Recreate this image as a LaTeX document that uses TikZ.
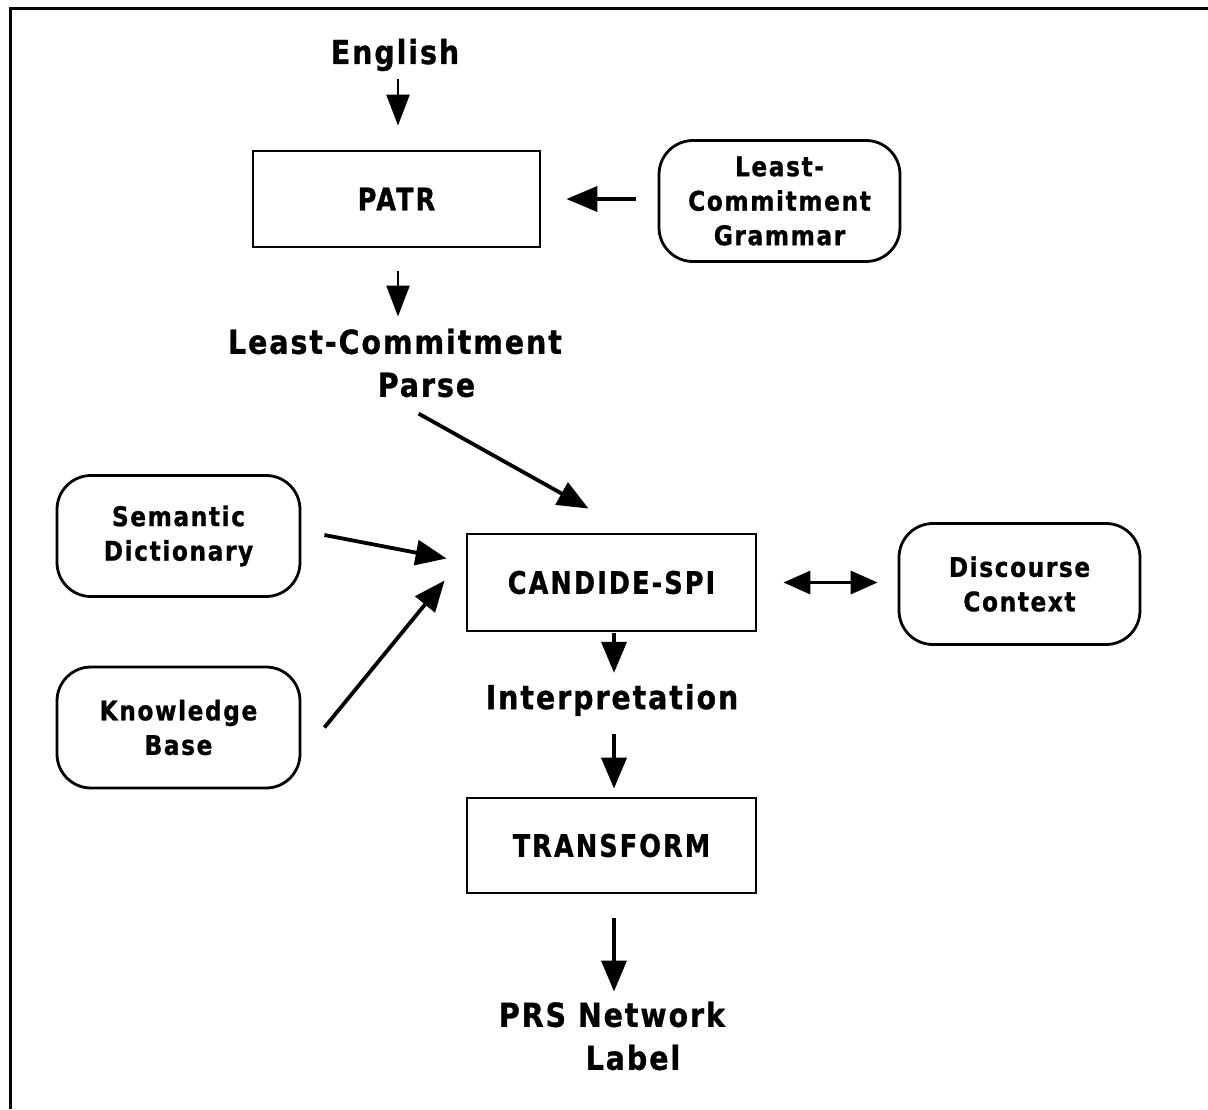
\documentclass[tikz,border=0pt]{standalone}
\usepackage{fontspec}
\setmainfont{DejaVu Sans}
\newfontfamily\chic{DejaVu Sans Bold}[FakeStretch=0.86,LetterSpace=6,FakeBold=1]
\newfontfamily\chicb{DejaVu Sans Bold}[FakeStretch=0.82,LetterSpace=7,FakeBold=1]
\usetikzlibrary{arrows.meta,calc}
\begin{document}
\begin{tikzpicture}[x=1pt,y=-1pt,
  sq/.style={draw,line width=2.8pt,inner sep=0pt,font=\chicb\fontsize{31}{36}\selectfont},
  rnd/.style={draw,line width=2.8pt,rounded corners=34pt,inner sep=0pt,align=center,
    minimum width=241pt,minimum height=121pt,font=\chic\fontsize{27}{34.5}\selectfont},
  lbl/.style={inner sep=0pt,align=center,font=\chic\fontsize{33}{43}\selectfont},
  arr/.style={-{Triangle[length=31pt,width=23pt]},line width=2.4pt},
  tarr/.style={-{Triangle[length=31pt,width=25pt]},line width=3.8pt},
  darr/.style={{Triangle[length=27pt,width=23pt]}-{Triangle[length=27pt,width=23pt]},line width=3.4pt}]
\fill[white] (0,0) rectangle (1208,1109);
\useasboundingbox (0,0) rectangle (1208,1109);
\draw[line width=3pt] (10,1109) -- (10,8) -- (1208,8);

\node[lbl] (eng) at (395,55) {English};
\node[sq,minimum width=287pt,minimum height=96pt] (patr) at (396.5,199) {PATR};
\node[rnd] (lcg) at (779.5,201) {Least-\\Commitment\\Grammar};
\node[lbl] (lcp) at (395,363) {Least-Commitment\\\hspace*{63pt}Parse};
\node[rnd,minimum width=243pt] (semd) at (178.5,536) {Semantic\\Dictionary};
\node[rnd,minimum width=243pt] (kb) at (178.5,727.5) {Knowledge\\Base};
\node[sq,minimum width=289pt,minimum height=97pt] (cand) at (611.5,582.5) {CANDIDE-SPI};
\node[rnd] (disc) at (1019.5,584) {Discourse\\Context};
\node[lbl] (interp) at (612,700) {Interpretation};
\node[sq,minimum width=289pt,minimum height=95pt] (trans) at (611.5,845.5) {TRANSFORM};
\node[lbl] (prs) at (612,1036) {PRS Network\\\hspace*{42pt}Label};

\draw[arr] ($(patr.north)+(1.5,-71)$) -- ($(patr.north)+(1.5,-24)$);
\draw[arr] ($(patr.south)+(1.5,23)$) -- ($(lcp.north)+(3,-12)$);
\draw[tarr,shorten <=22pt,shorten >=25pt] (lcg.west |- patr.east) -- (patr.east);
\draw[tarr] ($(cand.north west)+(-47,-119)$) -- ($(cand.north west)+(123,-24)$);
\draw[tarr] ($(semd.east)+(23,-1)$) -- ($(cand.west)+(-19,-24)$);
\draw[tarr] ($(kb.east)+(23,0)$) -- ($(cand.west)+(-21,-2)$);
\draw[darr,shorten <=26pt,shorten >=20pt] (cand.east) -- (disc.west |- cand.east);
\draw[tarr] ($(cand.south)+(2.5,1)$) -- ($(interp.north)+(2,-11)$);
\draw[tarr] ($(interp.south)+(2,18)$) -- ($(trans.north)+(2.5,-8)$);
\draw[tarr] ($(trans.south)+(2.5,24)$) -- ($(prs.north)+(2,-10)$);
\end{tikzpicture}
\end{document}
